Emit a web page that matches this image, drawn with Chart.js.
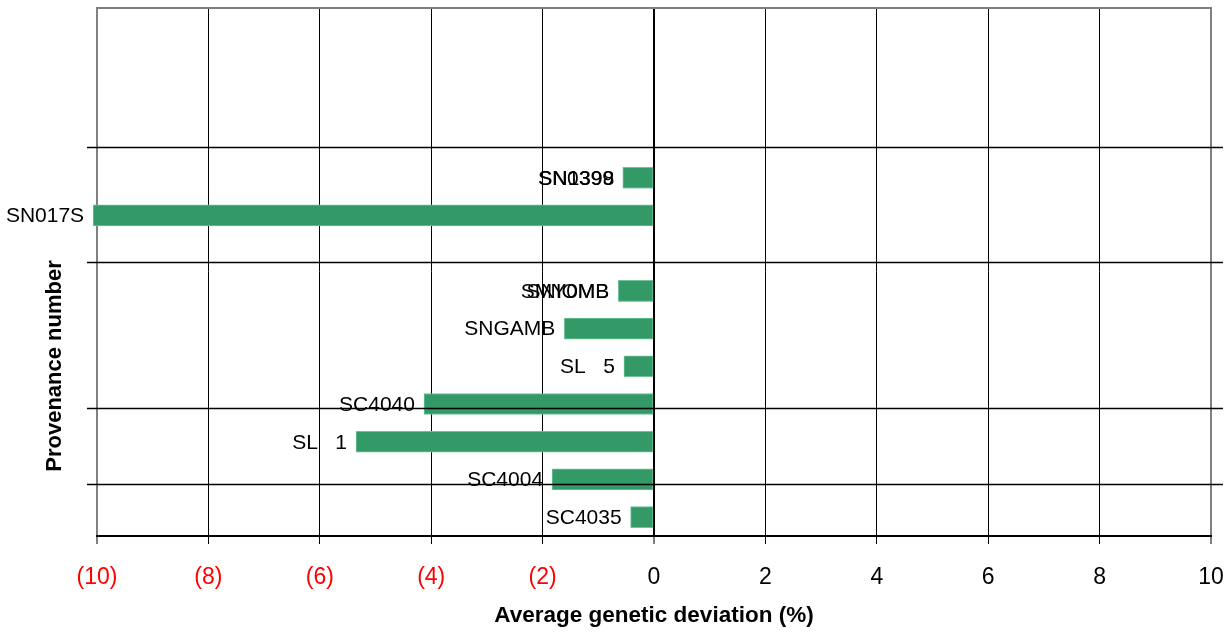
<!DOCTYPE html>
<html>
<head>
<meta charset="utf-8">
<script src="https://cdn.jsdelivr.net/npm/chart.js@4/dist/chart.umd.min.js"></script>
<style>
  html, body { margin: 0; padding: 0; background: #fff; }
  canvas { display: block; }
</style>
</head>
<body>
<canvas id="chart" width="1225" height="634"></canvas>
<script>
// --- Data (top slot first) ---
const provenances = ['', '', '', '', 'SN0399', 'SN017S', '', 'SNIOMB', 'SNGAMB', 'SL   5', 'SC4040', 'SL   1', 'SC4004', 'SC4035'];
const deviation = [null, null, null, null, -0.56, -10.07, null, -0.64, -1.61, -0.54, -4.13, -5.35, -1.83, -0.42];
// second provenance sharing the same slot (drawn on top of the first)
const overlapNames = ['', '', '', '', 'SN1398', '', '', 'SMY0MB', '', '', '', '', '', ''];
const overlapDeviation = [null, null, null, null, -0.55, null, null, -0.64, null, null, null, null, null, null];
const xTickValues = [-10, -8, -6, -4, -2, 0, 2, 4, 6, 8, 10];
// horizontal separators, in slot units of the category axis
const groupBreaks = [3.18, 6.23, 10.1, 12.12];

const FONT = "'Liberation Sans', Arial, sans-serif";
const BAR_GREEN = '#339966';

// bar labels, right-aligned just left of each bar end
const barLabels = {
    id: 'barLabels',
    afterDatasetsDraw(chart) {
        const ctx = chart.ctx;
        ctx.save();
        ctx.font = '21px ' + FONT;
        ctx.fillStyle = '#000';
        ctx.textAlign = 'right';
        ctx.textBaseline = 'middle';
        chart.data.datasets.forEach((ds, di) => {
            const meta = chart.getDatasetMeta(di);
            meta.data.forEach((bar, i) => {
                if (ds.data[i] == null) return;
                ctx.fillText(ds.names[i], bar.x - 9, bar.y + 1);
            });
        });
        ctx.restore();
    }
};

// separators, top border and the vertical axis title
const frame = {
    id: 'frame',
    afterDraw(chart) {
        const ctx = chart.ctx;
        const area = chart.chartArea;
        const y = chart.scales.y;
        ctx.save();
        ctx.strokeStyle = '#000';
        ctx.lineWidth = 1.5;
        groupBreaks.forEach(v => {
            const py = Math.round(y.getPixelForValue(v)) + 0.5;
            ctx.beginPath();
            ctx.moveTo(87, py);
            ctx.lineTo(1223, py);
            ctx.stroke();
        });
        ctx.strokeStyle = '#808080';
        ctx.lineWidth = 2;
        ctx.beginPath();
        ctx.moveTo(area.left - 1, area.top);
        ctx.lineTo(area.right + 1, area.top);
        ctx.stroke();

        ctx.translate(55, 366);
        ctx.rotate(-Math.PI / 2);
        ctx.font = 'bold 22px ' + FONT;
        ctx.fillStyle = '#000';
        ctx.textAlign = 'center';
        ctx.textBaseline = 'middle';
        ctx.fillText('Provenance number', 0, 0);
        ctx.restore();
    }
};

const edge = v => v === -10 || v === 10;

new Chart(document.getElementById('chart'), {
    type: 'bar',
    data: {
        labels: provenances,
        datasets: [
            { data: deviation, names: provenances },
            { data: overlapDeviation, names: overlapNames }
        ].map(ds => Object.assign(ds, {
            backgroundColor: BAR_GREEN,
            borderColor: '#6fc29a',
            borderWidth: 1,
            borderSkipped: false,
            barThickness: 21,
            grouped: false,
            clip: false
        }))
    },
    options: {
        indexAxis: 'y',
        responsive: false,
        animation: false,
        layout: { autoPadding: false, padding: { top: 8, right: 14, left: 0, bottom: 0 } },
        plugins: { legend: { display: false }, tooltip: { enabled: false } },
        scales: {
            x: {
                type: 'linear',
                min: -10,
                max: 10,
                afterBuildTicks: s => { s.ticks = xTickValues.map(v => ({ value: v })); },
                afterFit: s => {
                    s.height = 98;
                    s.paddingLeft = 0;
                    s.paddingRight = 0;
                },
                border: { display: true, color: '#000', width: 2 },
                grid: {
                    color: c => edge(c.tick.value) ? '#808080' : '#000',
                    lineWidth: c => (edge(c.tick.value) || c.tick.value === 0) ? 2 : 1,
                    tickColor: '#000',
                    tickWidth: 1,
                    tickLength: 8
                },
                ticks: {
                    padding: 20,
                    font: { family: FONT, size: 23 },
                    color: c => c.tick.value < 0 ? '#ff0000' : '#000',
                    callback: v => v < 0 ? '(' + (-v) + ')' : String(v)
                },
                title: {
                    display: true,
                    text: 'Average genetic deviation (%)',
                    color: '#000',
                    font: { family: FONT, size: 22.5, weight: 'bold' },
                    padding: { top: 0, bottom: 5 }
                }
            },
            y: {
                type: 'category',
                afterFit: s => { s.width = 97; },
                border: { display: false },
                grid: { display: false },
                ticks: { display: false }
            }
        }
    },
    plugins: [barLabels, frame]
});
</script>
</body>
</html>
